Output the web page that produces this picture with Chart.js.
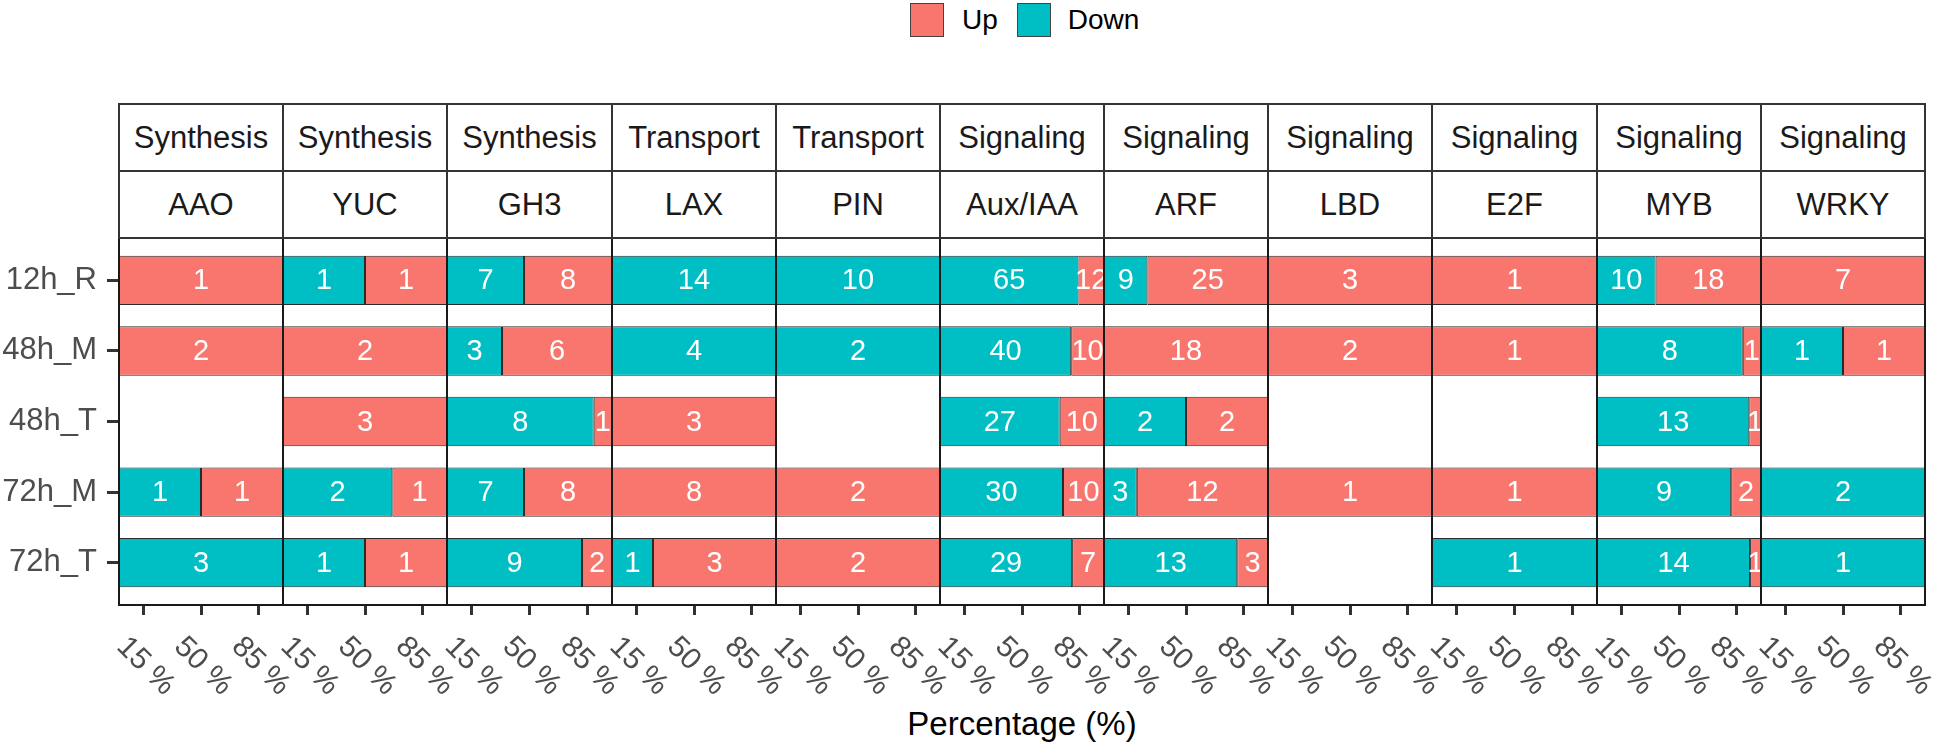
<!DOCTYPE html>
<html>
<head>
<meta charset="utf-8">
<script src="https://cdn.jsdelivr.net/npm/chart.js@4.4.0/dist/chart.umd.min.js"></script>
<style>
  body { margin: 0; background: #fff; width: 1946px; height: 748px; position: relative; overflow: hidden;
         font-family: "Liberation Sans", Arial, sans-serif; }
  canvas { position: absolute; }
  .strip { position: absolute; box-sizing: border-box; border: 2px solid #333; background: #fff;
           display: flex; align-items: center; justify-content: center; font-size: 31px; color: #1a1a1a; }
  #legend { position: absolute; top: 3px; left: 910px; height: 34px; display: flex; align-items: center;
            font-size: 28px; color: #000; }
  .key { width: 34px; height: 34px; box-sizing: border-box; border: 1.5px solid #444; }
  #xtitle { position: absolute; left: 119px; width: 1806px; top: 705px; text-align: center;
            font-size: 33px; line-height: 1.15; color: #000; }
</style>
</head>
<body>
<div id="legend"></div>
<div id="xtitle">Percentage (%)</div>
<script>
// rows (y axis) and facets
const timepoints = ["12h_R", "48h_M", "48h_T", "72h_M", "72h_T"];
const processes = ["Synthesis", "Synthesis", "Synthesis", "Transport", "Transport",
  "Signaling", "Signaling", "Signaling", "Signaling", "Signaling", "Signaling"];
const families = ["AAO", "YUC", "GH3", "LAX", "PIN", "Aux/IAA", "ARF", "LBD", "E2F", "MYB", "WRKY"];

// gene counts per family, one value per timepoint (null = no bar)
const downCounts = [
  [0, 0, null, 1, 3],
  [1, 0, 0, 2, 1],
  [7, 3, 8, 7, 9],
  [14, 4, 0, 0, 1],
  [10, 2, null, 0, 0],
  [65, 40, 27, 30, 29],
  [9, 0, 2, 3, 13],
  [0, 0, null, 0, null],
  [0, 0, null, 0, 1],
  [10, 8, 13, 9, 14],
  [0, 1, null, 2, 1]
];
const upCounts = [
  [1, 2, null, 1, 0],
  [1, 2, 3, 1, 1],
  [8, 6, 1, 8, 2],
  [0, 0, 3, 8, 3],
  [0, 0, null, 2, 2],
  [12, 10, 10, 10, 7],
  [25, 18, 2, 12, 3],
  [3, 2, null, 1, null],
  [1, 1, null, 1, 0],
  [18, 1, 1, 2, 1],
  [7, 1, null, 0, 0]
];
const xTicks = [15, 50, 85];

const seriesNames = ["Up", "Down"];
const seriesColors = { Up: "#F8766D", Down: "#00BFC4" };

const FONT = '"Liberation Sans", Arial, sans-serif';
Chart.defaults.font.family = FONT;

// --- panel geometry ---
const PANEL_LEFT = 119, PANEL_RIGHT = 1925;
const STRIP_TOP = 104, STRIP_MID = 171, PANEL_TOP = 238;
const SIDE = 30; // transparent margin so rotated labels are not cut
const edges = families.map((f, i) => Math.round(PANEL_LEFT + (PANEL_RIGHT - PANEL_LEFT) * i / families.length));
edges.push(PANEL_RIGHT);

// legend
const legend = document.getElementById("legend");
seriesNames.forEach((name, i) => {
  const key = document.createElement("span");
  key.className = "key";
  key.style.background = seriesColors[name];
  const label = document.createElement("span");
  label.textContent = name;
  label.style.margin = i === 0 ? "0 19px 0 18px" : "0 0 0 17px";
  legend.appendChild(key);
  legend.appendChild(label);
});

// --- plugins ---
const barLabels = {
  id: "barLabels",
  afterDatasetsDraw(chart) {
    const { ctx, chartArea: a } = chart;
    ctx.save();
    ctx.beginPath();
    ctx.rect(a.left, a.top, a.right - a.left, a.bottom - a.top);
    ctx.clip();
    ctx.font = "29px " + FONT;
    ctx.fillStyle = "#fff";
    ctx.textAlign = "center";
    ctx.textBaseline = "middle";
    chart.data.datasets.forEach((ds, di) => {
      chart.getDatasetMeta(di).data.forEach((bar, j) => {
        ctx.fillText(String(ds.data[j].n), (bar.x + bar.base) / 2, bar.y + 1);
      });
    });
    ctx.restore();
  }
};

const panelFrame = {
  id: "panelFrame",
  afterDraw(chart) {
    const { ctx, chartArea: a } = chart;
    ctx.save();
    ctx.strokeStyle = "#1a1a1a";
    ctx.lineWidth = 2;
    ctx.strokeRect(a.left, a.top, a.right - a.left, a.bottom - a.top);
    ctx.restore();
  }
};

// ggplot-style tick labels rotated 45 deg clockwise, starting at the tick
const xTickLabels = {
  id: "xTickLabels",
  afterDraw(chart) {
    const s = chart.scales.x;
    const ctx = chart.ctx;
    ctx.save();
    ctx.font = "30px " + FONT;
    ctx.fillStyle = "#4D4D4D";
    ctx.textAlign = "left";
    ctx.textBaseline = "alphabetic";
    s.ticks.forEach((t) => {
      const px = s.getPixelForValue(t.value);
      ctx.save();
      ctx.translate(px - 28, s.top + 43);
      ctx.rotate(Math.PI / 4);
      ctx.fillText(t.value + " %", 0, 0);
      ctx.restore();
    });
    ctx.restore();
  }
};

// --- one chart per facet ---
families.forEach((fam, p) => {
  const first = p === 0;
  const left = first ? 0 : edges[p] - SIDE;
  const right = edges[p + 1] + SIDE;
  const canvas = document.createElement("canvas");
  canvas.width = right - left;
  canvas.height = 748 - (PANEL_TOP - 2);
  canvas.style.left = left + "px";
  canvas.style.top = (PANEL_TOP - 2) + "px";
  document.body.appendChild(canvas);

  const downData = [];
  const upData = [];
  timepoints.forEach((t, r) => {
    const d = downCounts[p][r];
    const u = upCounts[p][r];
    if (d === null || u === null) return;
    const total = d + u;
    if (d > 0) downData.push({ x: d / total * 100, y: r, n: d });
    if (u > 0) upData.push({ x: u / total * 100, y: r, n: u });
  });

  const barStyle = {
    borderColor: "#2a2a2a",
    borderWidth: 1,
    borderSkipped: false,
    stack: "s",
    categoryPercentage: 1,
    barPercentage: 0.7
  };

  new Chart(canvas, {
    type: "bar",
    data: {
      datasets: [
        Object.assign({ label: "Down", data: downData, backgroundColor: seriesColors.Down }, barStyle),
        Object.assign({ label: "Up", data: upData, backgroundColor: seriesColors.Up }, barStyle)
      ]
    },
    options: {
      indexAxis: "y",
      responsive: false,
      animation: false,
      devicePixelRatio: 1,
      layout: { padding: { top: 2, bottom: 0, left: first ? 0 : SIDE, right: SIDE } },
      plugins: { legend: { display: false }, tooltip: { enabled: false } },
      scales: {
        x: {
          type: "linear",
          min: 0,
          max: 100,
          stacked: true,
          offset: false,
          afterBuildTicks: (s) => { s.ticks = xTicks.map((v) => ({ value: v })); },
          afterFit: (s) => { s.height = 143; s.paddingLeft = 0; s.paddingRight = 0; },
          grid: { offset: false, drawOnChartArea: false, drawTicks: true, tickLength: 10, tickWidth: 3, tickColor: "#333" },
          border: { display: false },
          ticks: { display: false }
        },
        y: {
          type: "linear",
          min: -0.6,
          max: 4.6,
          reverse: true,
          stacked: true,
          offset: false,
          display: first,
          afterBuildTicks: (s) => { s.ticks = timepoints.map((t, i) => ({ value: i })); },
          afterFit: (s) => {
            if (first) s.width = PANEL_LEFT;
            // labels sit well inside the panel, no extra room needed above/below
            s.paddingTop = 0;
            s.paddingBottom = 0;
          },
          grid: { offset: false, drawOnChartArea: false, drawTicks: true, tickLength: 12, tickWidth: 3, tickColor: "#333" },
          border: { display: false },
          ticks: {
            font: { size: 31 },
            color: "#4D4D4D",
            padding: 10,
            callback: (v) => timepoints[v]
          }
        }
      }
    },
    plugins: [barLabels, panelFrame, xTickLabels]
  });

  // two strip rows above the panel
  [[processes[p], STRIP_TOP, STRIP_MID], [fam, STRIP_MID, PANEL_TOP]].forEach(([text, top, bottom]) => {
    const strip = document.createElement("div");
    strip.className = "strip";
    strip.textContent = text;
    strip.style.left = (edges[p] - 1) + "px";
    strip.style.width = (edges[p + 1] - edges[p] + 2) + "px";
    strip.style.top = (top - 1) + "px";
    strip.style.height = (bottom - top + 2) + "px";
    document.body.appendChild(strip);
  });
});
</script>
</body>
</html>
